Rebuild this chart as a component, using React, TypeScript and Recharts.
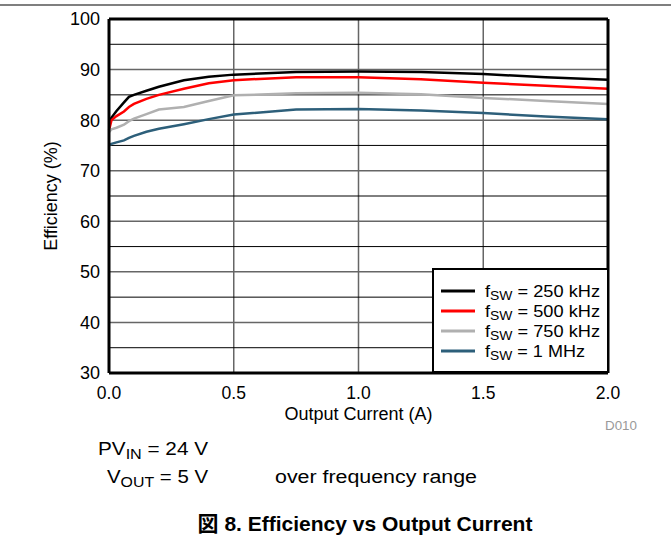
import React from 'react';
import { LineChart, Line, XAxis, YAxis, CartesianGrid, ReferenceLine, Legend } from 'recharts';

const current = [0, 0.01, 0.03, 0.06, 0.08, 0.1, 0.15, 0.2, 0.3, 0.4, 0.5, 0.75, 1.0, 1.25, 1.5, 1.75, 2.0];
const eff250 = [79.6, 80.5, 81.8, 83.5, 84.6, 85.0, 85.8, 86.6, 87.9, 88.6, 89.0, 89.5, 89.6, 89.5, 89.1, 88.5, 88.0];
const eff500 = [78.0, 80.0, 80.8, 81.7, 82.6, 83.2, 84.2, 85.0, 86.2, 87.3, 87.9, 88.5, 88.5, 88.1, 87.4, 86.8, 86.2];
const eff750 = [77.6, 78.2, 78.5, 79.1, 79.8, 80.3, 81.2, 82.1, 82.6, 83.8, 84.9, 85.3, 85.4, 85.1, 84.4, 83.8, 83.2];
const eff1M = [75.0, 75.3, 75.6, 76.0, 76.5, 76.9, 77.7, 78.3, 79.2, 80.2, 81.1, 82.1, 82.2, 81.9, 81.4, 80.7, 80.2];

const xTicks = [0, 0.5, 1.0, 1.5, 2.0];
const yTicks = [30, 40, 50, 60, 70, 80, 90, 100];
const minorY = [35, 45, 55, 65, 75, 85, 95];

const seriesNames = ['250 kHz', '500 kHz', '750 kHz', '1 MHz'];
const seriesKeys = ['f250', 'f500', 'f750', 'f1M'];
const seriesColors = ['#000000', '#ff0000', '#b0b0b0', '#2d5f7a'];
const legendTextLen = [115, 115, 115, 100];

const data = current.map((c, i) => ({
  current: c,
  f250: eff250[i],
  f500: eff500[i],
  f750: eff750[i],
  f1M: eff1M[i],
}));

const FONT = "Arial, 'Liberation Sans', 'Noto Sans CJK JP', sans-serif";

const LegendBox = () => (
  <svg width={177} height={105} style={{ display: 'block' }} fontFamily={FONT}>
    <rect x={1} y={1} width={175} height={103} fill="#fff" stroke="#000" strokeWidth={2} />
    {seriesNames.map((n, i) => (
      <g key={n}>
        <line x1={9} x2={43} y1={23 + i * 20} y2={23 + i * 20} stroke={seriesColors[i]} strokeWidth={3} />
        <text x={53} y={29 + i * 20} fontSize={17} fill="#000" textLength={legendTextLen[i]} lengthAdjust="spacingAndGlyphs">
          f<tspan fontSize={13} dy={3}>SW</tspan><tspan dy={-3}>{' = ' + n}</tspan>
        </text>
      </g>
    ))}
  </svg>
);

export default function App() {
  return (
    <div style={{ position: 'absolute', left: 0, top: 0, width: 671, height: 539, background: '#fff', fontFamily: FONT }}>
      <LineChart
        width={671}
        height={539}
        data={data}
        margin={{ top: 19, right: 63, bottom: 136, left: 49 }}
      >
        <CartesianGrid stroke="#666" strokeWidth={1.5} horizontal={true} vertical={true} />
        {minorY.map((v) => (
          <ReferenceLine key={v} y={v} stroke="#000" strokeWidth={1} />
        ))}
        <XAxis
          dataKey="current"
          type="number"
          domain={[0, 2]}
          ticks={xTicks}
          tickFormatter={(v: number) => v.toFixed(1)}
          height={30}
          tickLine={false}
          tickSize={6}
          tickMargin={8}
          axisLine={{ stroke: '#000', strokeWidth: 3 }}
          tick={{ fill: '#000', fontSize: 17.5, fontFamily: FONT }}
          label={{ value: 'Output Current (A)', position: 'bottom', offset: 4, fill: '#000', fontSize: 18, fontFamily: FONT }}
        />
        <YAxis
          type="number"
          domain={[30, 100]}
          ticks={yTicks}
          width={60}
          tickLine={false}
          tickSize={6}
          tickMargin={3}
          axisLine={{ stroke: '#000', strokeWidth: 3 }}
          tick={{ fill: '#000', fontSize: 18, fontFamily: FONT }}
          label={{ value: 'Efficiency (%)', angle: -90, position: 'insideLeft', offset: 2, fill: '#000', fontSize: 18, fontFamily: FONT, style: { textAnchor: 'middle' } }}
        />
        {seriesKeys.map((k, i) => (
          <Line
            key={k}
            dataKey={k}
            name={seriesNames[i]}
            type="linear"
            stroke={seriesColors[i]}
            strokeWidth={2.5}
            dot={false}
            activeDot={false}
            isAnimationActive={false}
          />
        ))}
        <ReferenceLine y={100} stroke="#000" strokeWidth={3} />
        <ReferenceLine x={2} stroke="#000" strokeWidth={3} />
        <Legend
          layout="vertical"
          align="center"
          verticalAlign="middle"
          content={() => <LegendBox />}
          wrapperStyle={{ left: 432, top: 268, width: 177, height: 105 }}
        />
      </LineChart>
      <svg
        width={671}
        height={539}
        style={{ position: 'absolute', left: 0, top: 0, pointerEvents: 'none' }}
        fontFamily={FONT}
      >
        <line x1={0} y1={5} x2={671} y2={5} stroke="#000" strokeWidth={1.2} />
        <text x={605} y={430} fontSize={13} fill="#999" textLength={32} lengthAdjust="spacingAndGlyphs">D010</text>
        <text x={98} y={455} fontSize={18} fill="#000" textLength={110} lengthAdjust="spacingAndGlyphs">
          PV<tspan fontSize={14} dy={4}>IN</tspan><tspan dy={-4}> = 24 V</tspan>
        </text>
        <text x={107} y={483} fontSize={18} fill="#000" textLength={101} lengthAdjust="spacingAndGlyphs">
          V<tspan fontSize={14} dy={4}>OUT</tspan><tspan dy={-4}> = 5 V</tspan>
        </text>
        <text x={275} y={483} fontSize={18} fill="#000" textLength={202} lengthAdjust="spacingAndGlyphs">over frequency range</text>
        <text x={365} y={531} textAnchor="middle" fontSize={21} fontWeight="bold" fill="#000">
          図 8. Efficiency vs Output Current
        </text>
      </svg>
    </div>
  );
}
